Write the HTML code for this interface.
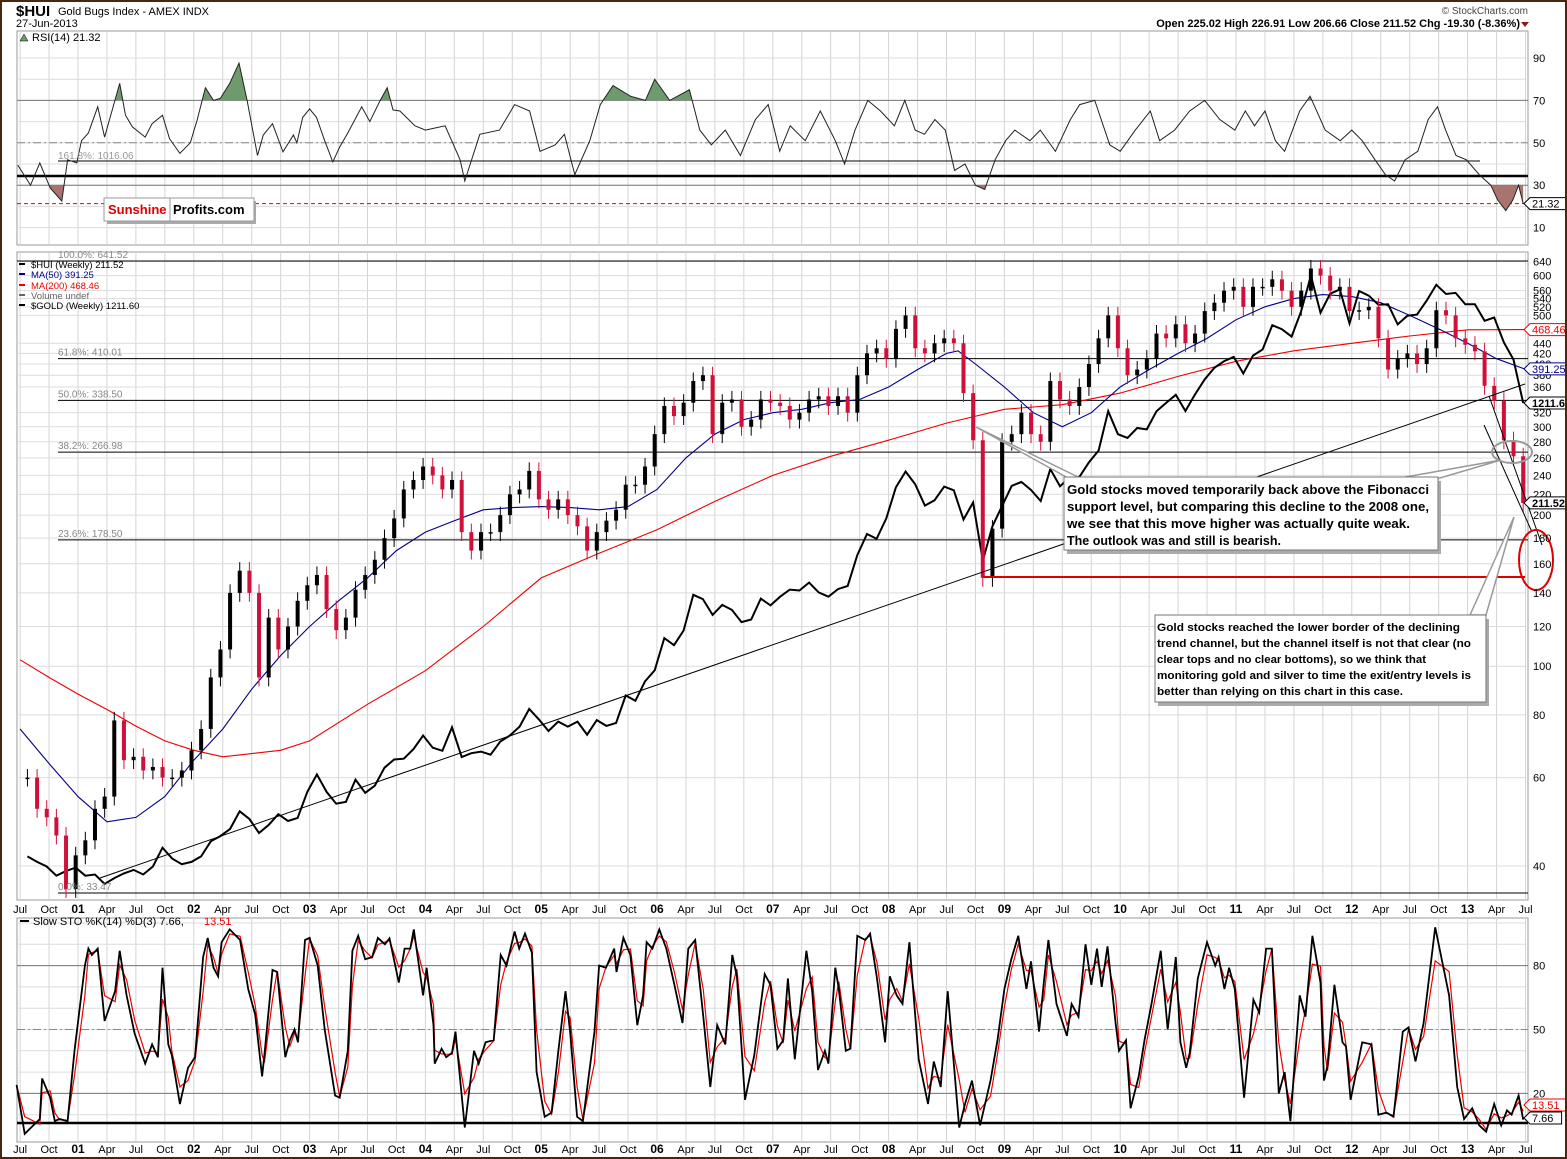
<!DOCTYPE html>
<html><head><meta charset="utf-8"><style>
html,body{margin:0;padding:0;background:#fff}
svg{display:block;font-family:"Liberation Sans",Arial,sans-serif}
</style></head><body>
<svg id="c" width="1567" height="1159" viewBox="0 0 1567 1159" xmlns="http://www.w3.org/2000/svg">
<rect x="0" y="0" width="1567" height="1159" fill="#fff"/>
<g id="grid"></g>
<g id="marks"></g>
<g id="labels"></g>
<rect x="1" y="1" width="1565" height="1157" fill="none" stroke="#4a2510" stroke-width="2"/>
</svg>
<script>
// ---------- data ----------
const startYear = 2000, startMonth = 7;
const huiClose = [60,52,50,46,36,42,
45,52,55,78,65,66,62,63,60,60,62,68,
75,95,108,140,155,140,95,125,108,120,135,145,
152,130,118,125,142,152,163,180,197,225,235,250,
240,225,235,185,170,185,185,200,220,225,245,215,
205,215,200,190,170,185,195,205,230,230,250,290,
330,315,335,370,380,290,335,340,300,310,340,335,
330,310,320,340,345,330,345,320,380,420,430,410,
470,500,430,420,440,450,440,350,282,150,188,280,
290,320,290,280,370,340,330,360,400,450,500,430,
380,390,410,460,450,480,440,460,510,530,560,570,
520,570,570,590,560,520,560,620,600,560,570,510,
512,520,450,390,410,420,400,430,512,500,450,437,
424,362,338,282,262,211.52];
const goldClose = [282,277,273,265,269,272,
265,266,258,263,267,270,266,273,290,280,275,277,
282,296,301,308,326,318,304,312,323,316,319,347,
367,347,334,336,361,346,354,375,385,386,398,416,
400,396,427,388,393,395,391,408,416,428,453,438,
422,435,428,435,417,437,429,433,473,465,495,513,
569,556,583,654,645,613,633,623,599,604,646,632,
650,665,663,680,659,650,666,673,743,795,783,836,
924,972,933,871,886,926,915,833,880,730,815,870,
928,940,916,884,980,927,954,955,1001,1040,1180,1096,
1083,1118,1113,1180,1212,1244,1181,1246,1307,1357,1386,1405,
1332,1411,1439,1556,1536,1500,1628,1825,1620,1722,1746,1565,
1737,1711,1662,1664,1560,1604,1610,1684,1772,1720,1726,1664,
1664,1578,1595,1472,1393,1211.6];
const ma50Dates = [2000.5,2000.75,2001,2001.25,2001.5,2001.75,2002,2002.25,2002.5,2002.75,2003,2003.25,2003.5,2003.75,2004,2004.25,2004.5,2004.75,2005,2005.25,2005.5,2005.75,2006,2006.25,2006.5,2006.75,2007,2007.25,2007.5,2007.75,2008,2008.25,2008.5,2008.6,2008.75,2009,2009.25,2009.5,2009.75,2010,2010.25,2010.5,2010.75,2011,2011.25,2011.5,2011.75,2012,2012.25,2012.5,2012.75,2013,2013.25,2013.49];
const ma50Values = [75,64,55,49,50,55,65,75,90,105,120,135,150,170,185,195,205,207,208,207,205,208,225,260,290,310,320,325,335,340,360,390,420,425,400,360,320,300,320,360,390,420,450,490,520,540,550,545,530,500,470,440,410,391.25];
const ma200Dates = [2000.5,2000.75,2001,2001.25,2001.5,2001.75,2002,2002.25,2002.5,2002.75,2003,2003.5,2004,2004.5,2005,2005.5,2006,2006.5,2007,2007.5,2008,2008.5,2009,2009.5,2010,2010.5,2011,2011.5,2012,2012.5,2013,2013.49];
const ma200Values = [103,95,88,82,76,71,68,66,67,68,71,84,98,120,150,168,187,213,240,262,282,305,325,332,350,378,405,425,440,455,468,468.46];
const rsiDates = [2000.48,2000.59,2000.67,2000.76,2000.86,2000.91,2000.99,2001.03,2001.09,2001.17,2001.23,2001.36,2001.41,2001.47,2001.58,2001.64,2001.73,2001.79,2001.88,2001.97,2002.03,2002.10,2002.17,2002.23,2002.31,2002.39,2002.46,2002.55,2002.60,2002.68,2002.77,2002.86,2002.89,2002.94,2003.00,2003.06,2003.13,2003.20,2003.26,2003.33,2003.45,2003.52,2003.61,2003.67,2003.72,
2003.78,2003.91,2004.00,2004.17,2004.30,2004.34,2004.47,2004.64,2004.77,2004.90,2004.99,2005.12,2005.20,2005.29,2005.42,2005.51,2005.62,2005.77,2005.90,2005.98,2006.11,2006.28,2006.37,2006.47,2006.59,2006.72,2006.85,2006.96,2007.06,2007.15,2007.28,2007.41,2007.54,2007.62,2007.71,2007.82,2007.93,2008.05,2008.14,2008.23,2008.31,2008.40,2008.49,2008.57,2008.66,2008.75,2008.83,2008.92,2009.01,2009.09,2009.22,2009.31,2009.44,2009.57,2009.65,2009.78,2009.91,2010.00,2010.13,2010.26,2010.34,2010.47,2010.60,2010.73,2010.86,2010.99,2011.08,2011.16,2011.25,2011.34,2011.42,2011.55,2011.64,2011.77,2011.90,2012.00,2012.09,2012.20,2012.29,2012.37,2012.46,2012.57,2012.66,2012.74,2012.81,2012.90,2012.99,2013.10,2013.20,2013.26,2013.33,2013.39,2013.44,2013.48];
const rsiValues = [39.5,30,40.5,28.7,22.5,42,40.5,51,54.6,67,52.7,78,63,57.5,52.7,59,63,52,45,50,61,76,70,71,78,87.6,70,44,53.7,59,45.7,53.7,50,62,66,62,51,41,48,54.6,67,60,70,76,65.5,
65,58,56,58,42,32,54,56,68,65,46,49,54,35,51,68,77,72,70,80,70,75,56,49,56,44,61,68,46,58,51,65,51,40,56,70,65,58,70,56,54,61,56,37,40,30,28,42,51,56,51,56,46,61,68,70,49,46,56,65,51,56,65,70,61,56,65,58,65,51,46,65,72,56,51,56,51,42,35,32,42,46,61,67,56,44,42,35,30,23,18,23,30,21.32];
const stoDates = [2000.47,2000.54,2000.67,2000.69,2000.76,2000.80,2000.84,2000.91,2000.97,2001.06,2001.09,2001.12,2001.17,2001.23,2001.32,2001.36,2001.42,2001.49,2001.58,2001.64,2001.69,2001.73,2001.78,2001.81,2001.88,2001.95,2002.01,2002.08,2002.12,2002.17,2002.21,2002.24,2002.31,2002.40,2002.47,2002.53,2002.59,2002.61,2002.68,2002.72,2002.79,2002.83,2002.87,2002.90,2002.96,2003.00,2003.07,2003.13,2003.22,2003.26,2003.33,2003.37,2003.42,2003.48,2003.54,2003.59,2003.65,2003.69,
2003.77,2003.82,2003.87,2003.90,2003.98,2004.01,2004.07,2004.08,2004.14,2004.18,2004.23,2004.26,2004.34,2004.42,2004.46,2004.52,2004.59,2004.65,2004.70,2004.77,2004.81,2004.86,2004.92,2004.96,2005.03,2005.09,2005.15,2005.21,2005.25,2005.31,2005.36,2005.46,2005.50,2005.56,2005.63,2005.65,2005.71,2005.77,2005.83,2005.88,2005.91,2005.96,2006.02,2006.08,2006.15,2006.22,2006.27,2006.33,2006.40,2006.46,2006.52,2006.59,2006.65,2006.69,2006.76,2006.84,2006.93,2006.98,2007.04,2007.09,2007.13,2007.19,2007.29,2007.34,2007.39,2007.45,2007.48,2007.54,2007.57,2007.63,2007.67,2007.73,2007.80,2007.84,2007.90,2007.97,2008.01,2008.07,2008.12,2008.18,2008.26,2008.34,2008.39,2008.45,2008.51,
2008.61,2008.66,2008.72,2008.79,2008.88,2008.94,2009.00,2009.06,2009.12,2009.19,2009.23,2009.30,2009.34,2009.38,2009.45,2009.54,2009.58,2009.64,2009.70,2009.75,2009.80,2009.84,2009.89,2009.96,2009.99,2010.05,2010.09,2010.16,2010.21,2010.27,2010.35,2010.41,2010.48,2010.52,2010.57,2010.60,2010.67,2010.75,2010.82,2010.85,2010.90,2010.94,2010.99,2011.07,2011.15,2011.20,2011.26,2011.31,2011.37,2011.42,2011.47,2011.55,2011.60,2011.66,2011.73,2011.76,2011.79,2011.85,2011.92,2011.95,2011.99,2012.09,2012.17,2012.23,2012.30,2012.36,2012.44,2012.49,2012.55,2012.62,2012.72,2012.84,2012.91,2012.97,2013.04,2013.10,2013.16,2013.23,2013.29,2013.34,2013.38,2013.44,2013.48];
const stoK = [24,1,8,27,18,7,8,7,40,80,88,85,88,54,68,87,66,48,34,43,37,79,43,38,15,32,37,84,93,79,75,91,97,92,69,57,28,38,78,77,37,45,50,44,92,93,80,50,19,18,40,87,94,83,84,93,90,92.8,
72,88,88,97,66,79,52,34,41,37,39,49,4,40,34,44,45,85,80,96,88,95,86,30,9,11,41,68,49,9,7,49,80,79,88,77,93,85,52,66,91,88,97,88,71,53,88,92,56,23,52,43,85,75,17,38,76,71,41,45,74,36,87,68,31,40,34,79,69,40,41,94,92,95,74,44,75,66,62,91,36,15,35,23,68,
4,15,26,5,26,45,69,83,94,69,82,49,72,92,62,47,62,56,90,71,88,70,89,53,40,45,13,28,45,62,87,50,84,44,32,39,74,91,80,84,69,79,69,18,64,58,88,88,20,30,7,66,56,94,72,26,33,71,44,42,17,44,43,10,11,9,49,51,35,53,98,66,23,8,13,5,2,15,5,12,10,19,7.66];
const rsiTicks = [10,30,50,70,90];
const mainTicks = [640,600,560,540,520,500,440,420,400,380,360,320,300,280,260,240,220,200,180,160,140,120,100,80,60,40];
const stoTicks = [20,50,80];
const fibLevels = [641.52,410.01,338.50,266.98,178.50];
const fibLabels = ["100.0%: 641.52","61.8%: 410.01","50.0%: 338.50","38.2%: 266.98","23.6%: 178.50"];
const monthNames = ["Jan","Apr","Jul","Oct"];

// ---------- scales ----------
const L = 17, R = 1528;
const X = t => 78 + 115.8 * (t - 2001);
const Ym = v => 866 - 218 * Math.log(v / 40);
const Yg = g => 403 - 311 * Math.log(g / 1211.6);
const Yr = v => 58 + (90 - v) * 2.12;
const Ys = v => 1136 - 2.13 * v;
const monthT = i => startYear + (startMonth - 1 + i) / 12 + 1 / 12 - 0.02;

const NS = "http://www.w3.org/2000/svg";
function mk(tag, attrs, parent) {
  const e = document.createElementNS(NS, tag);
  for (const k in attrs) e.setAttribute(k, attrs[k]);
  parent.appendChild(e);
  return e;
}
const G = document.getElementById('grid'), M = document.getElementById('marks'), LB = document.getElementById('labels');
function txt(x, y, s, attrs, parent) {
  const t = mk('text', Object.assign({x: x, y: y}, attrs || {}), parent || LB);
  t.textContent = s;
  return t;
}

// ---------- panels ----------
const panels = [[31, 245], [252, 900], [918, 1142]];
const panelNames = ['rsi-panel', 'price-panel', 'stochastic-panel'];
panels.forEach((p, i) => {
  const r = mk('rect', {x: L, y: p[0], width: R - L, height: p[1] - p[0], fill: '#fff', stroke: '#999', 'stroke-width': 1}, G);
  
  
});
for (let y = 2000; y <= 2013; y++) {
  for (let q = 0; q < 4; q++) {
    const t = y + q / 4;
    const x = X(t);
    if (x < L + 1 || x > R - 1) continue;
    panels.forEach(p => {
      const ln = mk('line', {x1: x, x2: x, y1: p[0], y2: p[1], stroke: '#d4d4d4', 'stroke-width': 1}, G);
      
      
    });
    const lab = q === 0 ? String(y).slice(2) : monthNames[q];
    [909, 1149].forEach(yy => {
      const tl = txt(x, yy + 4, lab, {'font-size': q === 0 ? 12 : 11, 'font-weight': q === 0 ? 'bold' : 'normal', 'text-anchor': 'middle', fill: '#000'});
      
      
    });
  }
}
for (let v = 10; v <= 90; v += 10) {
  const ln = mk('line', {x1: L, x2: R, y1: Yr(v), y2: Yr(v), stroke: '#dcdcdc'}, G);
  
  
}
for (let v = 10; v <= 100; v += 10) {
  const ln = mk('line', {x1: L, x2: R, y1: Ys(v), y2: Ys(v), stroke: '#dcdcdc'}, G);
  
  
}
mainTicks.forEach(v => {
  const ln = mk('line', {x1: L, x2: R, y1: Ym(v), y2: Ym(v), stroke: '#dcdcdc'}, G);
  
  
  const tl = txt(1533, Ym(v) + 4, String(v), {'font-size': 11, fill: '#000'});
  
  
});
rsiTicks.forEach(v => {
  const tl = txt(1533, Yr(v) + 4, String(v), {'font-size': 11});
  
  
});
stoTicks.forEach(v => {
  const tl = txt(1533, Ys(v) + 4, String(v), {'font-size': 11});
  
  
});

// ---------- RSI panel ----------
[[70, '#777', ''], [30, '#777', ''], [50, '#888', '8,3,2,3']].forEach(a => {
  const ln = mk('line', {x1: L, x2: R, y1: Yr(a[0]), y2: Yr(a[0]), stroke: a[1], 'stroke-dasharray': a[2]}, M);
  
  
});
const fibRsi = mk('line', {x1: 58, x2: 1480, y1: 161, y2: 161, stroke: '#000'}, M);


const fibRsiT = txt(58, 159, '161.8%: 1016.06', {'font-size': 10, fill: '#999'});


const thickRsi = mk('line', {x1: L, x2: R, y1: 176, y2: 176, stroke: '#000', 'stroke-width': 2.5}, M);


const redDash = mk('line', {x1: L, x2: R, y1: Yr(21.32), y2: Yr(21.32), stroke: '#e00', 'stroke-dasharray': '4,3'}, M);


let rsiPts = rsiDates.map((t, i) => X(t).toFixed(1) + ',' + Yr(rsiValues[i]).toFixed(1)).join(' ');
const defs = mk('defs', {}, M);
const c1 = mk('clipPath', {id: 'above70'}, defs); mk('rect', {x: L, y: 31, width: R - L, height: Yr(70) - 31}, c1);
const c2 = mk('clipPath', {id: 'below30'}, defs); mk('rect', {x: L, y: Yr(30), width: R - L, height: 245 - Yr(30)}, c2);
const rsiFirst = X(rsiDates[0]), rsiLast = X(rsiDates[rsiDates.length - 1]);
const fillHi = mk('polygon', {points: rsiFirst + ',' + Yr(70) + ' ' + rsiPts + ' ' + rsiLast + ',' + Yr(70), fill: '#6e9a6e', 'clip-path': 'url(#above70)'}, M);


const fillLo = mk('polygon', {points: rsiFirst + ',' + Yr(30) + ' ' + rsiPts + ' ' + rsiLast + ',' + Yr(30), fill: '#a9746e', 'clip-path': 'url(#below30)'}, M);


const rsiLine = mk('polyline', {points: rsiPts, fill: 'none', stroke: '#222', 'stroke-width': 1}, M);



// ---------- Price panel ----------
fibLevels.forEach((v, i) => {
  const ln = mk('line', {x1: i === 0 ? L : 58, x2: R, y1: Ym(v), y2: Ym(v), stroke: '#000'}, M);
  
  
  const tl = txt(58, Ym(v) - 3, fibLabels[i], {'font-size': 10, fill: '#888'});
  
  
});
const base = mk('line', {x1: 58, x2: R, y1: 893, y2: 893, stroke: '#000'}, M);


const baseT = txt(58, 890, '0.0%: 33.47', {'font-size': 10, fill: '#888'});


const ma200 = mk('polyline', {points: ma200Dates.map((t, i) => X(t).toFixed(1) + ',' + Ym(ma200Values[i]).toFixed(1)).join(' '), fill: 'none', stroke: '#e00', 'stroke-width': 1.1}, M);


const ma50 = mk('polyline', {points: ma50Dates.map((t, i) => X(t).toFixed(1) + ',' + Ym(ma50Values[i]).toFixed(1)).join(' '), fill: 'none', stroke: '#00008b', 'stroke-width': 1.1}, M);


const goldLine = mk('polyline', {points: goldClose.map((g, i) => X(monthT(i)).toFixed(1) + ',' + Yg(g).toFixed(1)).join(' '), fill: 'none', stroke: '#000', 'stroke-width': 2}, M);


huiClose.forEach((c, i) => {
  const o = i > 0 ? huiClose[i - 1] : c;
  const x = X(monthT(i));
  const col = c < o ? '#d0103a' : '#000';
  const hi = Math.max(o, c) * 1.04, lo = Math.min(o, c) * 0.96;
  const w = mk('line', {x1: x, x2: x, y1: Ym(hi), y2: Ym(lo), stroke: col, 'stroke-width': 1}, M);
  
  
  const top = Math.min(Ym(o), Ym(c)), h = Math.max(1.5, Math.abs(Ym(o) - Ym(c)));
  const b = mk('rect', {x: x - 2, y: top, width: 4, height: h, fill: col}, M);
  
  
});
const tl1 = mk('line', {x1: 100, y1: 878, x2: 1525, y2: 384, stroke: '#000', 'stroke-width': 1}, M);


const redH = mk('line', {x1: 983, x2: 1525, y1: 577, y2: 577, stroke: '#d00', 'stroke-width': 2}, M);


const ch1 = mk('line', {x1: 1489, y1: 396, x2: 1542, y2: 545, stroke: '#000'}, M);


const ch2 = mk('line', {x1: 1484, y1: 425, x2: 1532, y2: 532, stroke: '#000'}, M);


const ell = mk('ellipse', {cx: 1512, cy: 452, rx: 20, ry: 11, fill: 'none', stroke: '#999', 'stroke-width': 2}, M);


const redC = mk('ellipse', {cx: 1536, cy: 560, rx: 17, ry: 30, fill: 'none', stroke: '#d00', 'stroke-width': 2}, M);


const p1 = mk('polygon', {points: '976,427 1080,478 1068,478', fill: '#fff', stroke: '#999', 'stroke-width': 1.5}, M);


const p2 = mk('polygon', {points: '1400,478 1501,460 1440,478', fill: '#fff', stroke: '#999', 'stroke-width': 1.5}, M);


const s1 = mk('rect', {x: 1067, y: 481, width: 374, height: 73, fill: '#aaa'}, M);


const b1 = mk('rect', {x: 1064, y: 477, width: 374, height: 73, fill: '#fff', stroke: '#777'}, M);


["Gold stocks moved temporarily back above the Fibonacci", "support level, but comparing this decline to the 2008 one,", "we see that this move higher was actually quite weak.", "The outlook was and still is bearish."].forEach((s, i) => {
  const a = {'font-size': 12.5, 'font-weight': 'bold'};
  if (i < 3) { a.textLength = [362, 362, 343][i]; a.lengthAdjust = 'spacingAndGlyphs'; }
  const t = txt(1067, 494 + i * 17, s, a);
  
  
});
const p3 = mk('polygon', {points: '1470,615 1514,517 1486,615', fill: '#fff', stroke: '#999', 'stroke-width': 1.5}, M);


const s2 = mk('rect', {x: 1158, y: 619, width: 331, height: 87, fill: '#aaa'}, M);


const b2 = mk('rect', {x: 1155, y: 615, width: 331, height: 87, fill: '#fff', stroke: '#777'}, M);


["Gold stocks reached the lower border of the declining", "trend channel, but the channel itself is not that clear (no", "clear tops and no clear bottoms), so we think that", "monitoring gold and silver to time the exit/entry levels is", "better than relying on this chart in this case."].forEach((s, i) => {
  const a = {'font-size': 11, 'font-weight': 'bold', textLength: [303, 314, 269, 314, 246][i], lengthAdjust: 'spacingAndGlyphs'};
  const t = txt(1157, 631 + i * 16, s, a);
  
  
});

// ---------- Stochastic panel ----------
[[80, '#777', ''], [20, '#777', ''], [50, '#888', '8,3,2,3']].forEach(a => {
  const ln = mk('line', {x1: L, x2: R, y1: Ys(a[0]), y2: Ys(a[0]), stroke: a[1], 'stroke-dasharray': a[2]}, M);
  
  
});
const stoBase = mk('line', {x1: L, x2: R, y1: 1123, y2: 1123, stroke: '#000', 'stroke-width': 2.5}, M);


const stoD = stoK.map((v, i) => i > 0 ? 0.65 * v + 0.35 * stoK[i - 1] : v);
const dLine = mk('polyline', {points: stoDates.map((t, i) => X(t).toFixed(1) + ',' + Ys(stoD[i]).toFixed(1)).join(' '), fill: 'none', stroke: '#e00', 'stroke-width': 1.2}, M);


const kLine = mk('polyline', {points: stoDates.map((t, i) => X(t).toFixed(1) + ',' + Ys(stoK[i]).toFixed(1)).join(' '), fill: 'none', stroke: '#000', 'stroke-width': 1.8}, M);



// ---------- value tags ----------
function tag(y, s, col, bold, nm) {
  const w = s.length * (bold ? 7.2 : 6.4) + 6;
  const p = mk('polygon', {points: `1524,${y} 1530,${y - 6} ${1530 + w},${y - 6} ${1530 + w},${y + 6} 1530,${y + 6}`, fill: '#fff', stroke: col}, LB);
  
  
  const t = txt(1532, y + 4, s, {'font-size': 11, fill: col, 'font-weight': bold ? 'bold' : 'normal'});
  
  
}
tag(Yr(rsiValues[rsiValues.length - 1]), '21.32', '#000', false, 'rsi-value-tag');
tag(Ym(ma200Values[ma200Values.length - 1]), '468.46', '#e00', false, 'ma200-value-tag');
tag(Ym(ma50Values[ma50Values.length - 1]), '391.25', '#00008b', false, 'ma50-value-tag');
tag(Yg(goldClose[goldClose.length - 1]), '1211.60', '#000', true, 'gold-value-tag');
tag(Ym(huiClose[huiClose.length - 1]), '211.52', '#000', true, 'hui-value-tag');
tag(1105, '13.51', '#e00', false, 'sto-d-value-tag');
tag(1118, '7.66', '#000', false, 'sto-k-value-tag');

// ---------- header & legends ----------
function T(x, y, s, a, nm) { const t = txt(x, y, s, a);   return t; }
T(16, 16, '$HUI', {'font-size': 15, 'font-weight': 'bold'}, 'ticker-title');
T(58, 15, 'Gold Bugs Index - AMEX  INDX', {'font-size': 11}, 'chart-title');
T(16, 27, '27-Jun-2013', {'font-size': 11}, 'chart-date');
T(1528, 14, '© StockCharts.com', {'font-size': 10, 'text-anchor': 'end', fill: '#444'}, 'source-credit');
T(1520, 27, 'Open 225.02  High 226.91  Low 206.66  Close 211.52  Chg -19.30 (-8.36%)', {'font-size': 11, 'font-weight': 'bold', 'text-anchor': 'end'}, 'ohlc-summary');
mk('polygon', {points: '1521,22 1529,22 1525,27', fill: '#8b1a1a'}, LB);
T(32, 41, 'RSI(14) 21.32', {'font-size': 11}, 'rsi-legend');
mk('polygon', {points: '20,41 24,34 28,41', fill: '#6e9a6e', stroke: '#000', 'stroke-width': 0.5}, LB);
const lg = mk('g', {}, LB);


mk('rect', {x: 107, y: 201, width: 149, height: 23, fill: '#aaa'}, lg);
mk('rect', {x: 104, y: 198, width: 66, height: 23, fill: '#fff', stroke: '#999'}, lg);
mk('rect', {x: 170, y: 198, width: 84, height: 23, fill: '#fff', stroke: '#999'}, lg);
const st = txt(108, 214, 'Sunshine', {'font-size': 13, 'font-weight': 'bold', fill: '#d00'}, lg);
 
const pt = txt(173, 214, 'Profits.com', {'font-size': 13, 'font-weight': 'bold', fill: '#000'}, lg);
 
const legItems = [['$HUI (Weekly) 211.52', '#000', 268], ['MA(50) 391.25', '#00008b', 278], ['MA(200) 468.46', '#e00', 289], ['Volume undef', '#666', 299], ['$GOLD (Weekly) 1211.60', '#000', 309]];
legItems.forEach(l => {
  const sw = mk('rect', {x: 19, y: l[2] - 5, width: 6, height: 2, fill: l[1]}, LB);
  
  
  T(31, l[2], l[0], {'font-size': 9.5, fill: l[1]}, 'legend-entry');
});
T(33, 925, 'Slow STO %K(14) %D(3) 7.66,', {'font-size': 11}, 'sto-legend');
T(204, 925, '13.51', {'font-size': 11, fill: '#e00'}, 'sto-legend-d');
mk('rect', {x: 20, y: 920, width: 9, height: 2, fill: '#000'}, LB);
</script>
</body></html>
